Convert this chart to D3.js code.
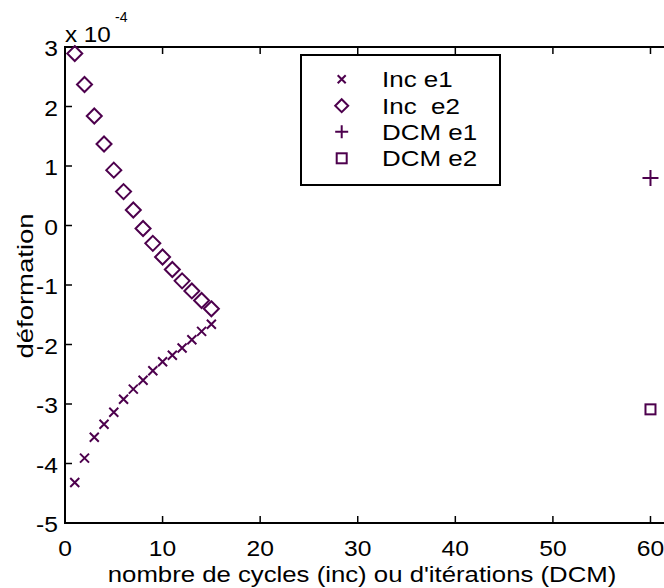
<!DOCTYPE html>
<html><head><meta charset="utf-8">
<script src="https://cdn.jsdelivr.net/npm/d3@7"></script>
<style>body{margin:0;background:#fff}svg{display:block}text{font-family:"Liberation Sans",Arial,sans-serif;fill:#000;white-space:pre}</style>
</head><body>
<script>
// Data (values in units of 1e-4)
const incX = [1,2,3,4,5,6,7,8,9,10,11,12,13,14,15];
const incE1 = [-4.32,-3.91,-3.56,-3.34,-3.14,-2.92,-2.75,-2.60,-2.44,-2.29,-2.18,-2.06,-1.92,-1.78,-1.66];
const incE2 = [2.89,2.37,1.84,1.37,0.93,0.57,0.26,-0.05,-0.30,-0.53,-0.74,-0.93,-1.10,-1.26,-1.40];
const dcmX = [60];
const dcmE1 = [0.80];
const dcmE2 = [-3.09];
const xTicks = [0,10,20,30,40,50,60];
const yTicks = [-5,-4,-3,-2,-1,0,1,2,3];
const legendLabels = ["Inc e1","Inc  e2","DCM e1","DCM e2"];
const xLabel = "nombre de cycles (inc) ou d'itérations (DCM)";
const yLabel = "déformation";

const W = 664, H = 588, col = "#4d004d";
const svg = d3.select("body").append("svg").attr("width",W).attr("height",H);
const x = d3.scaleLinear().domain([0,62]).range([65,670]);
const y = d3.scaleLinear().domain([-5,3]).range([523,47]);
const fs = 22;

function stretch(sel, f){
  sel.each(function(){
    const n = this; const L = n.getComputedTextLength();
    n.setAttribute("textLength", (L*f).toFixed(1));
    n.setAttribute("lengthAdjust","spacingAndGlyphs");
  });
}

// frame
const g = svg.append("g");
g.append("rect").attr("x",x(0)).attr("y",y(3)).attr("width",x(62)-x(0)).attr("height",y(-5)-y(3))
  .attr("fill","none").attr("stroke","#000").attr("stroke-width",2);
// ticks
const tl = 7;
xTicks.forEach(t=>{
  g.append("line").attr("x1",x(t)).attr("x2",x(t)).attr("y1",y(-5)).attr("y2",y(-5)-tl).attr("stroke","#000").attr("stroke-width",1.5);
  g.append("line").attr("x1",x(t)).attr("x2",x(t)).attr("y1",y(3)).attr("y2",y(3)+tl).attr("stroke","#000").attr("stroke-width",1.5);
});
yTicks.forEach(t=>{
  g.append("line").attr("x1",x(0)).attr("x2",x(0)+tl).attr("y1",y(t)).attr("y2",y(t)).attr("stroke","#000").attr("stroke-width",1.5);
  g.append("line").attr("x1",x(62)).attr("x2",x(62)-5.5).attr("y1",y(t)).attr("y2",y(t)).attr("stroke","#888").attr("stroke-width",1);
});
// tick labels
const xt = g.selectAll(".xt").data(xTicks).enter().append("text").attr("class","xt")
  .attr("x",d=>x(d)).attr("y",556).attr("text-anchor","middle").attr("font-size",fs).text(d=>d);
stretch(xt,1.12);
const yt = g.selectAll(".yt").data(yTicks).enter().append("text").attr("class","yt")
  .attr("x",58).attr("y",d=>y(d)+9).attr("text-anchor","end").attr("font-size",fs).text(d=>d);
stretch(yt,1.12);
// exponent
const ex = g.append("text").attr("x",65).attr("y",42).attr("font-size",fs).text("x 10");
stretch(ex,1.1);
g.append("text").attr("x",115).attr("y",22).attr("font-size",14).text("-4");
// axis labels
const xl = g.append("text").attr("x",362).attr("y",582).attr("text-anchor","middle").attr("font-size",fs).text(xLabel);
stretch(xl,1.17);
const yl = g.append("text").attr("transform","translate(33,286) rotate(-90)").attr("text-anchor","middle").attr("font-size",fs).text(yLabel);
stretch(yl,1.25);

// markers
const sw = 2;
function cross(gg,cx,cy,r){gg.append("path").attr("d",`M${cx-r},${cy-r}L${cx+r},${cy+r}M${cx-r},${cy+r}L${cx+r},${cy-r}`).attr("stroke",col).attr("stroke-width",sw).attr("fill","none");}
function diamond(gg,cx,cy,r){gg.append("path").attr("d",`M${cx},${cy-r}L${cx+r},${cy}L${cx},${cy+r}L${cx-r},${cy}Z`).attr("stroke",col).attr("stroke-width",sw).attr("fill","none");}
function plus(gg,cx,cy,r){gg.append("path").attr("d",`M${cx-r},${cy}L${cx+r},${cy}M${cx},${cy-r}L${cx},${cy+r}`).attr("stroke",col).attr("stroke-width",sw).attr("fill","none");}
function square(gg,cx,cy,r){gg.append("rect").attr("x",cx-r).attr("y",cy-r).attr("width",2*r).attr("height",2*r).attr("stroke",col).attr("stroke-width",sw).attr("fill","none");}

const m = svg.append("g");
incX.forEach((d,i)=>cross(m,x(d),y(incE1[i]),4.5));
incX.forEach((d,i)=>diamond(m,x(d),y(incE2[i]),7.5));
dcmX.forEach((d,i)=>plus(m,x(d),y(dcmE1[i]),8));
dcmX.forEach((d,i)=>square(m,x(d),y(dcmE2[i]),5));

// legend
const lg = svg.append("g");
lg.append("rect").attr("x",301).attr("y",55).attr("width",199).attr("height",130).attr("fill","#fff").attr("stroke","#000").attr("stroke-width",2);
const ly = [79.3,105.7,131.7,158.3];
const mk = [(gg,cx,cy)=>cross(gg,cx,cy,4),(gg,cx,cy)=>diamond(gg,cx,cy,6.5),(gg,cx,cy)=>plus(gg,cx,cy,6.5),(gg,cx,cy)=>square(gg,cx,cy,5)];
legendLabels.forEach((l,i)=>{
  mk[i](lg,341.7,ly[i]);
  const t = lg.append("text").attr("x",382).attr("y",ly[i]+8).attr("font-size",fs).text(l);
  stretch(t,1.18);
});
</script>
</body></html>
